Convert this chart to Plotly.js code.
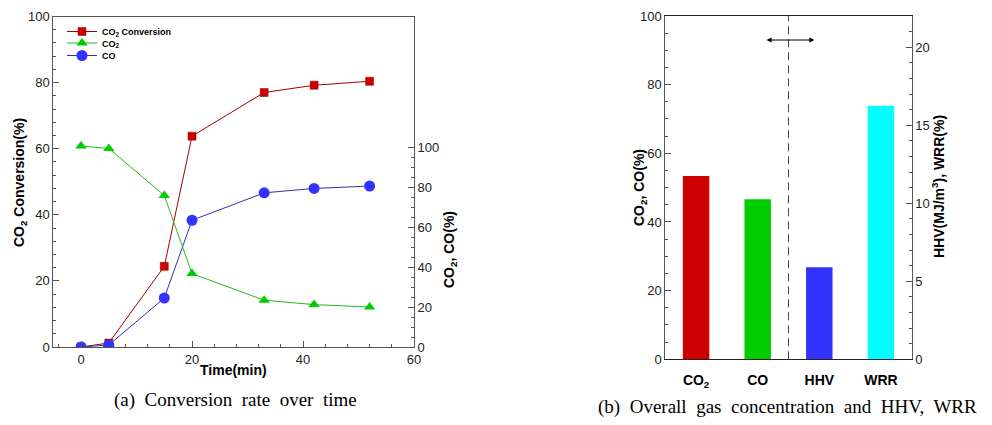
<!DOCTYPE html>
<html>
<head>
<meta charset="utf-8">
<script src="https://cdn.plot.ly/plotly-3.0.1.min.js"></script>
<style>html,body{margin:0;padding:0;background:#fff;}#chart{width:992px;height:425px;}</style>
</head>
<body>
<div id="chart"></div>
<script>
// ---- data: (a) conversion over time ----
const timeMin = [0, 5, 15, 20, 33, 42, 52];
const co2Conversion = [0, 1.2, 24.4, 63.8, 77, 79.2, 80.4];
const co2Conc = [100.5, 99.3, 75.8, 36.7, 23.4, 21.2, 20];
const coConc = [0, 1, 24.5, 63.4, 77.1, 79.3, 80.5];

// ---- data: (b) overall gas concentration, HHV, WRR ----
const barCategories = ['CO<sub>2</sub>', 'CO', 'HHV', 'WRR'];
const gasCategories = ['CO<sub>2</sub>', 'CO'];
const gasValues = [53.4, 46.6];
const hhvWrrCategories = ['HHV', 'WRR'];
const hhvWrrValues = [5.9, 16.25];

const W = 992, H = 425;
const fx = p => p / W;
const fy = p => 1 - p / H;

const axisCol = '#555';
const tickFont = {family: 'Liberation Sans, Arial, sans-serif', size: 13, color: '#222'};
const boldFont = {family: 'Liberation Sans, Arial, sans-serif', size: 14, color: '#000', weight: 'bold'};
const serifFont = {family: 'Liberation Serif, Times New Roman, serif', size: 19, color: '#000'};
const legFont = {family: 'Liberation Sans, Arial, sans-serif', size: 9, color: '#000', weight: 'bold'};

const minorY2 = [];
for (let v = 5; v < 100; v += 5) if (v % 20) minorY2.push(v);

const traces = [
  {x: timeMin, y: coConc, name: 'CO', type: 'scatter', mode: 'lines+markers',
   xaxis: 'x', yaxis: 'y2', legend: 'legend3', line: {color: '#3333aa', width: 1},
   marker: {symbol: 'circle', size: 11, color: '#3333ff'}},
  {x: timeMin, y: co2Conc, name: 'CO<sub>2</sub>', type: 'scatter', mode: 'lines+markers',
   xaxis: 'x', yaxis: 'y2', legend: 'legend2', line: {color: '#22bb22', width: 1},
   marker: {symbol: 'triangle-up', size: 10, color: '#00cc00'}},
  {x: timeMin, y: co2Conversion, name: 'CO<sub>2</sub> Conversion', type: 'scatter', mode: 'lines+markers',
   xaxis: 'x', yaxis: 'y', legend: 'legend', line: {color: '#a00000', width: 1},
   marker: {symbol: 'square', size: 8, color: '#cc0000', line: {color: '#990000', width: 0.5}}},
  {x: gasCategories, y: gasValues, type: 'bar', xaxis: 'x2', yaxis: 'y3', width: 0.43,
   marker: {color: ['#cc0000', '#00cc00'], line: {width: 0}}, showlegend: false},
  {x: hhvWrrCategories, y: hhvWrrValues, type: 'bar', xaxis: 'x2', yaxis: 'y4', width: 0.43,
   marker: {color: ['#3333ff', '#00ffff'], line: {width: 0}}, showlegend: false}
];

function legendAt(topPx) {
  return {x: fx(62), y: fy(topPx), xanchor: 'left', yanchor: 'top', bgcolor: 'rgba(0,0,0,0)',
          font: legFont, itemwidth: 30};
}

const layout = {
  width: W, height: H,
  margin: {l: 0, r: 0, t: 0, b: 0},
  paper_bgcolor: '#fff', plot_bgcolor: '#fff',
  barmode: 'overlay',
  showlegend: true,
  legend: legendAt(17),
  legend2: legendAt(28.5),
  legend3: legendAt(41),
  xaxis: {domain: [fx(53.3), fx(414)], range: [-5, 60], anchor: 'y',
          showgrid: false, zeroline: false, showline: true, linecolor: axisCol, linewidth: 1, mirror: true,
          ticks: 'inside', ticklen: 6, tickcolor: axisCol, dtick: 20, tick0: 0, tickfont: tickFont,
          minor: {dtick: 4, tick0: 0, ticks: 'inside', ticklen: 3, tickcolor: axisCol, showgrid: false}},
  yaxis: {domain: [fy(347), fy(16.5)], range: [0, 100], anchor: 'x',
          showgrid: false, zeroline: false, showline: true, linecolor: axisCol, linewidth: 1,
          ticks: 'inside', ticklen: 6, tickcolor: axisCol, dtick: 20, tickfont: tickFont,
          minor: {dtick: 4, ticks: 'inside', ticklen: 3, tickcolor: axisCol, showgrid: false}},
  yaxis2: {overlaying: 'y', side: 'right', anchor: 'x', range: [0, 165.3],
           showgrid: false, zeroline: false, showline: true, linecolor: axisCol, linewidth: 1,
           ticks: 'inside', ticklen: 6, tickcolor: axisCol, tickvals: [0, 20, 40, 60, 80, 100], tickfont: tickFont,
           minor: {tickvals: minorY2, ticks: 'inside', ticklen: 3, tickcolor: axisCol, showgrid: false}},
  xaxis2: {domain: [fx(665.3), fx(911.7)], anchor: 'y3', type: 'category',
           categoryorder: 'array', categoryarray: barCategories, range: [-0.5, 3.5],
           showgrid: false, zeroline: false, showline: true, linecolor: '#222', linewidth: 1, mirror: true,
           ticks: '', ticklabelstandoff: 8,
           tickfont: {family: 'Liberation Sans, Arial, sans-serif', size: 14, color: '#000', weight: 'bold'}},
  yaxis3: {domain: [fy(359.3), fy(16)], range: [0, 100], anchor: 'x2',
           showgrid: false, zeroline: false, showline: true, linecolor: axisCol, linewidth: 1,
           ticks: 'inside', ticklen: 6, tickcolor: axisCol, dtick: 20, tickfont: tickFont,
           minor: {dtick: 5, ticks: 'inside', ticklen: 3, tickcolor: axisCol, showgrid: false}},
  yaxis4: {overlaying: 'y3', side: 'right', anchor: 'x2', range: [0, 22],
           showgrid: false, zeroline: false, showline: true, linecolor: axisCol, linewidth: 1,
           ticks: 'inside', ticklen: 6, tickcolor: axisCol, dtick: 5, tickfont: tickFont,
           minor: {dtick: 1, ticks: 'inside', ticklen: 3, tickcolor: axisCol, showgrid: false}},
  shapes: [
    {type: 'line', xref: 'x2', yref: 'y3 domain', x0: 1.5, x1: 1.5, y0: 0, y1: 1,
     line: {color: '#444', width: 1, dash: '8px,5px'}}
  ],
  annotations: [
    {xref: 'paper', yref: 'paper', x: fx(20), y: fy(183), text: 'CO<sub>2</sub> Conversion(%)', textangle: -90,
     showarrow: false, font: boldFont, xanchor: 'center', yanchor: 'middle'},
    {xref: 'paper', yref: 'paper', x: fx(233), y: fy(370), text: 'Time(min)',
     showarrow: false, font: boldFont, xanchor: 'center', yanchor: 'middle'},
    {xref: 'paper', yref: 'paper', x: fx(450), y: fy(250), text: 'CO<sub>2</sub>, CO(%)', textangle: -90,
     showarrow: false, font: boldFont, xanchor: 'center', yanchor: 'middle'},
    {xref: 'paper', yref: 'paper', x: fx(235), y: fy(400), text: '(a)  Conversion  rate  over  time',
     showarrow: false, font: serifFont, xanchor: 'center', yanchor: 'middle'},
    {xref: 'paper', yref: 'paper', x: fx(640), y: fy(188), text: 'CO<sub>2</sub>, CO(%)', textangle: -90,
     showarrow: false, font: boldFont, xanchor: 'center', yanchor: 'middle'},
    {xref: 'paper', yref: 'paper', x: fx(938), y: fy(187), text: 'HHV(MJ/m<sup>3</sup>), WRR(%)', textangle: -90,
     showarrow: false, font: boldFont, xanchor: 'center', yanchor: 'middle'},
    {xref: 'paper', yref: 'paper', x: fx(787), y: fy(407), text: '(b)  Overall  gas  concentration  and  HHV,  WRR',
     showarrow: false, font: serifFont, xanchor: 'center', yanchor: 'middle'},
    {xref: 'x2', yref: 'y3', x: 1.92, y: 93, axref: 'x2', ayref: 'y3', ax: 1.12, ay: 93, text: '',
     showarrow: true, arrowhead: 2, arrowside: 'end+start', arrowsize: 1, arrowwidth: 1, arrowcolor: '#000'}
  ]
};

Plotly.newPlot('chart', traces, layout, {displayModeBar: false, staticPlot: true});
</script>
</body>
</html>
